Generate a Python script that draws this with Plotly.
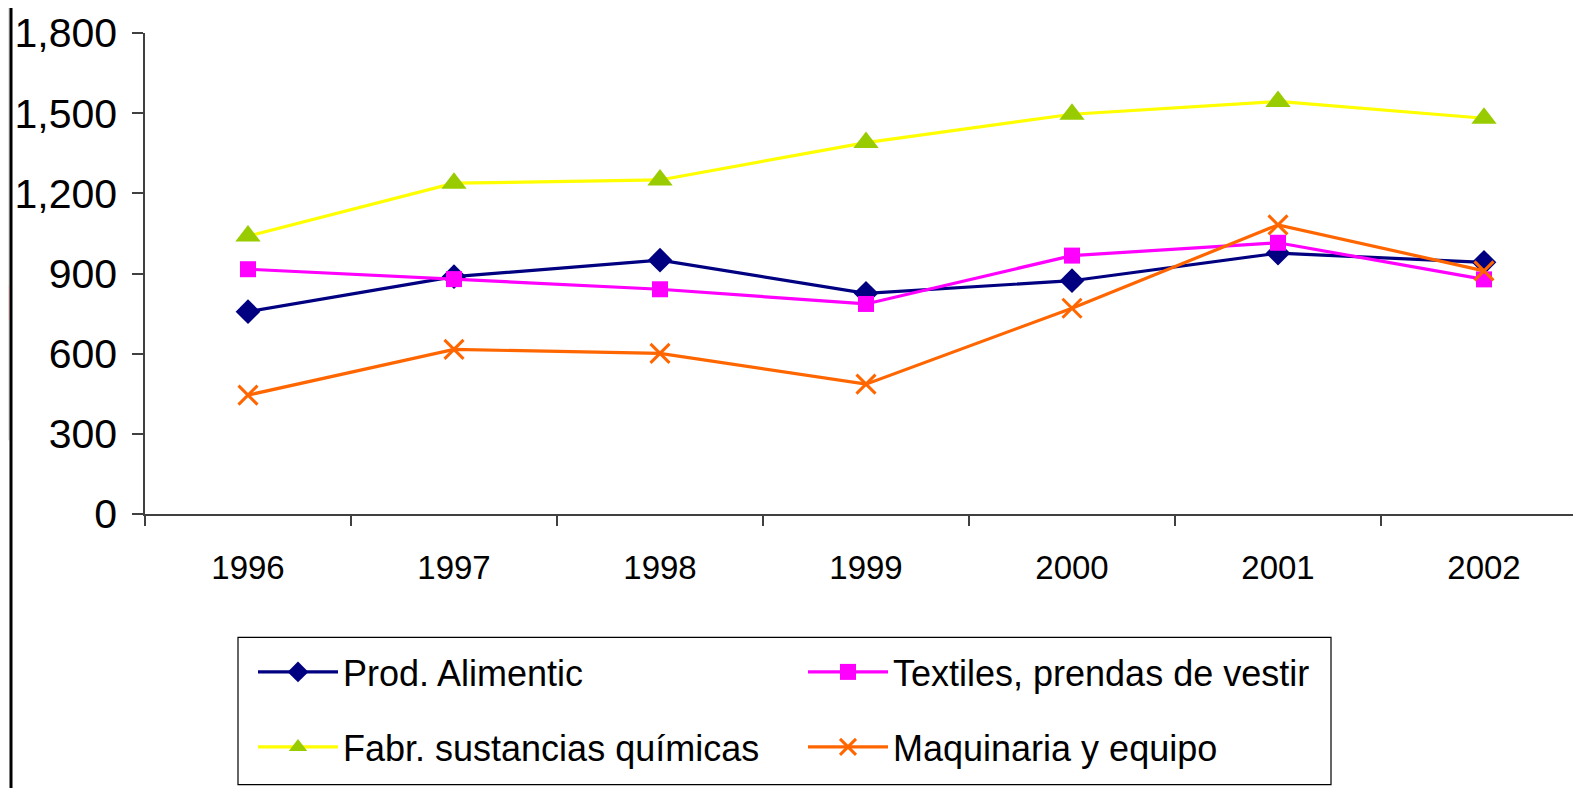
import plotly.graph_objects as go

years = ["1996", "1997", "1998", "1999", "2000", "2001", "2002"]
prod_alimentic = [757, 888, 950, 826, 873, 976, 942]
textiles = [916, 879, 841, 786, 967, 1015, 878]
quimicas = [1040, 1238, 1250, 1390, 1496, 1544, 1481]
maquinaria = [445, 616, 601, 486, 770, 1082, 910]

W, H = 1581, 788
OFF = 8  # page body margin offset
L = 145 - OFF
T = 33.3 - OFF
B = H - (513.7 - OFF)
PW = W - L
PH = H - T - B
CAT = 206.0

FONT = "Liberation Sans, Arial, sans-serif"


def px(x):
    return (x - OFF - L) / PW


def py(y):
    return (H - B - (y - OFF)) / PH


def cx(x):
    return (x - OFF) / W


def cy(y):
    return (H - (y - OFF)) / H


fig = go.Figure()

fig.add_trace(go.Scatter(
    x=years, y=prod_alimentic, name="Prod. Alimentic", mode="lines+markers",
    line=dict(color="#000080", width=3.2),
    marker=dict(symbol="diamond", size=19, color="#000080"),
    legend="legend",
))
fig.add_trace(go.Scatter(
    x=years, y=textiles, name="Textiles, prendas de vestir", mode="lines+markers",
    line=dict(color="#FF00FF", width=3.2),
    marker=dict(symbol="square", size=16, color="#FF00FF"),
    legend="legend",
))
fig.add_trace(go.Scatter(
    x=years, y=quimicas, name="Fabr. sustancias químicas", mode="lines+markers",
    line=dict(color="#FFFF00", width=3.2),
    marker=dict(symbol="triangle-up", size=22, color="#99CC00"),
    legend="legend2",
))
fig.add_trace(go.Scatter(
    x=years, y=maquinaria, name="Maquinaria y equipo", mode="lines+markers",
    line=dict(color="#FF6600", width=3.2),
    marker=dict(symbol="x-thin", size=19, color="#FF6600",
                line=dict(color="#FF6600", width=3)),
    legend="legend2",
))

legend_common = dict(
    orientation="h",
    xref="container", yref="container",
    xanchor="left", yanchor="middle",
    font=dict(family=FONT, size=36, color="#000000"),
    bgcolor="rgba(0,0,0,0)",
    borderwidth=0,
    entrywidth=455,
    itemwidth=80,
    traceorder="normal",
)

fig.update_layout(
    width=W, height=H,
    margin=dict(l=L, r=0, t=T, b=B, pad=0),
    paper_bgcolor="#FFFFFF",
    plot_bgcolor="#FFFFFF",
    font=dict(family=FONT, color="#000000"),
    xaxis=dict(
        type="category",
        range=[-0.5, -0.5 + PW / CAT],
        automargin=False,
        showgrid=False, zeroline=False,
        showline=True, linecolor="#404040", linewidth=1.5,
        ticks="outside", ticklen=10, tickcolor="#404040", tickwidth=1.5,
        tickson="boundaries",
        tickfont=dict(family=FONT, size=33, color="#000000"),
        ticklabelstandoff=24,
    ),
    yaxis=dict(
        range=[0, 1800],
        dtick=300, tick0=0,
        tickformat=",d",
        automargin=False,
        showgrid=False, zeroline=False,
        showline=True, linecolor="#404040", linewidth=1.5,
        ticks="outside", ticklen=11, tickcolor="#404040", tickwidth=1.5,
        tickfont=dict(family=FONT, size=41, color="#000000"),
        ticklabelstandoff=7,
    ),
    legend=dict(x=cx(253), y=cy(672), **legend_common),
    legend2=dict(x=cx(253), y=cy(747), **legend_common),
    shapes=[
        dict(type="rect", xref="paper", yref="paper",
             x0=px(238), x1=px(1331), y0=py(784), y1=py(637),
             line=dict(color="#000000", width=1.2), fillcolor="rgba(0,0,0,0)"),
        dict(type="rect", xref="paper", yref="paper",
             x0=px(0), x1=px(10), y0=py(440), y1=py(0),
             line=dict(width=0), fillcolor="#E6E4E2"),
        dict(type="rect", xref="paper", yref="paper",
             x0=px(0), x1=px(10), y0=py(320), y1=py(285),
             line=dict(width=0), fillcolor="#F0D6D6"),
        dict(type="line", xref="paper", yref="paper",
             x0=px(11), x1=px(11), y0=py(H + OFF), y1=py(0),
             line=dict(color="#000000", width=3)),
    ],
    showlegend=True,
)

fig.write_html("out.html")
